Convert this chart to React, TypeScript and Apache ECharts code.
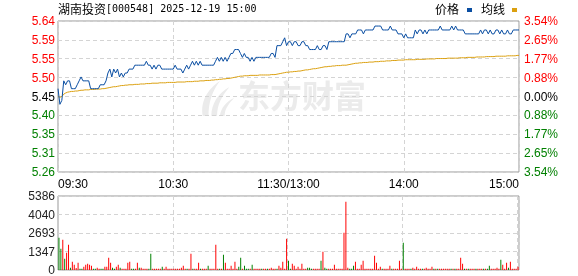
import React, { useEffect, useRef } from 'react';
import * as echarts from 'echarts';

const prevClose = 5.45;
const titleName = '湖南投资';
const titleCode = '[000548] 2025-12-19 15:00';
const legendNames = ['价格', '均线'];
const watermarkText = '东方财富';
const xTickLabels = ['09:30', '10:30', '11:30/13:00', '14:00', '15:00'];
const priceTicks = ['5.26', '5.31', '5.35', '5.40', '5.45', '5.50', '5.55', '5.59', '5.64'];
const pctTicks = ['3.54%', '2.65%', '1.77%', '0.88%', '0.00%', '0.88%', '1.77%', '2.65%', '3.54%'];
const pctRange = 3.54;
const volTicks = ['0', '1347', '2693', '4040', '5386'];
const volMax = 5386;

const prices = [
  5.47, 5.43, 5.44, 5.49, 5.48, 5.49, 5.49, 5.47, 5.47, 5.47,
  5.48, 5.49, 5.50, 5.49, 5.49, 5.49, 5.49, 5.47, 5.47, 5.47,
  5.47, 5.47, 5.48, 5.48, 5.48, 5.49, 5.51, 5.52, 5.50, 5.52,
  5.51, 5.52, 5.50, 5.51, 5.50, 5.51, 5.51, 5.52, 5.52, 5.52,
  5.53, 5.53, 5.53, 5.53, 5.53, 5.53, 5.54, 5.53, 5.53, 5.52,
  5.53, 5.52, 5.53, 5.53, 5.52, 5.52, 5.52, 5.52, 5.52, 5.52,
  5.52, 5.53, 5.52, 5.52, 5.52, 5.51, 5.52, 5.53, 5.52, 5.53,
  5.54, 5.53, 5.54, 5.53, 5.54, 5.53, 5.53, 5.53, 5.53, 5.53,
  5.53, 5.53, 5.54, 5.55, 5.54, 5.55, 5.54, 5.55, 5.54, 5.55,
  5.56, 5.56, 5.57, 5.57, 5.57, 5.56, 5.55, 5.56, 5.55, 5.55,
  5.54, 5.55, 5.54, 5.55, 5.55, 5.55, 5.55, 5.55, 5.55, 5.55,
  5.55, 5.56, 5.56, 5.55, 5.58, 5.58, 5.58, 5.59, 5.60, 5.58,
  5.59, 5.59, 5.58, 5.59, 5.59, 5.58, 5.58, 5.59, 5.59, 5.58,
  5.58, 5.57, 5.57, 5.57, 5.57, 5.58, 5.57, 5.57, 5.58, 5.58,
  5.57, 5.59, 5.59, 5.59, 5.59, 5.59, 5.59, 5.59, 5.59, 5.59,
  5.61, 5.61, 5.60, 5.61, 5.61, 5.61, 5.62, 5.62, 5.62, 5.61,
  5.62, 5.62, 5.62, 5.62, 5.62, 5.63, 5.63, 5.63, 5.63, 5.62,
  5.62, 5.62, 5.62, 5.63, 5.62, 5.62, 5.62, 5.61, 5.61, 5.61,
  5.60, 5.61, 5.60, 5.60, 5.60, 5.60, 5.62, 5.61, 5.62, 5.62,
  5.61, 5.62, 5.61, 5.62, 5.62, 5.62, 5.62, 5.62, 5.62, 5.63,
  5.62, 5.62, 5.62, 5.62, 5.62, 5.63, 5.62, 5.63, 5.62, 5.62,
  5.62, 5.62, 5.61, 5.61, 5.61, 5.61, 5.61, 5.61, 5.61, 5.61,
  5.62, 5.61, 5.62, 5.62, 5.61, 5.62, 5.61, 5.61, 5.62, 5.62,
  5.61, 5.62, 5.61, 5.61, 5.62, 5.61, 5.61, 5.62, 5.62, 5.62,
  5.62,
];

const avgPrices = [
  5.450, 5.448, 5.450, 5.456, 5.459, 5.461, 5.462, 5.463, 5.463, 5.464,
  5.464, 5.465, 5.466, 5.466, 5.467, 5.467, 5.467, 5.468, 5.468, 5.468,
  5.469, 5.469, 5.469, 5.470, 5.470, 5.471, 5.472, 5.473, 5.474, 5.475,
  5.475, 5.476, 5.477, 5.478, 5.478, 5.479, 5.479, 5.480, 5.480, 5.480,
  5.481, 5.481, 5.481, 5.482, 5.482, 5.482, 5.483, 5.483, 5.483, 5.484,
  5.484, 5.484, 5.484, 5.485, 5.485, 5.485, 5.485, 5.486, 5.486, 5.486,
  5.486, 5.486, 5.487, 5.487, 5.487, 5.487, 5.487, 5.488, 5.488, 5.488,
  5.488, 5.489, 5.489, 5.489, 5.490, 5.490, 5.490, 5.491, 5.491, 5.491,
  5.492, 5.492, 5.493, 5.493, 5.494, 5.494, 5.495, 5.495, 5.496, 5.496,
  5.497, 5.498, 5.499, 5.500, 5.501, 5.502, 5.502, 5.503, 5.503, 5.503,
  5.504, 5.504, 5.504, 5.504, 5.504, 5.505, 5.505, 5.505, 5.505, 5.505,
  5.505, 5.506, 5.506, 5.506, 5.507, 5.508, 5.509, 5.510, 5.511, 5.512,
  5.512, 5.513, 5.513, 5.514, 5.514, 5.515, 5.515, 5.516, 5.517, 5.518,
  5.518, 5.519, 5.520, 5.521, 5.521, 5.522, 5.523, 5.524, 5.525, 5.526,
  5.526, 5.527, 5.527, 5.528, 5.528, 5.529, 5.529, 5.529, 5.530, 5.530,
  5.530, 5.531, 5.532, 5.533, 5.534, 5.535, 5.535, 5.536, 5.536, 5.537,
  5.537, 5.537, 5.538, 5.538, 5.538, 5.539, 5.539, 5.539, 5.540, 5.540,
  5.540, 5.541, 5.541, 5.541, 5.542, 5.542, 5.542, 5.543, 5.543, 5.543,
  5.543, 5.544, 5.544, 5.544, 5.544, 5.544, 5.544, 5.545, 5.545, 5.545,
  5.545, 5.545, 5.546, 5.546, 5.546, 5.546, 5.546, 5.547, 5.547, 5.547,
  5.547, 5.547, 5.547, 5.548, 5.548, 5.548, 5.548, 5.548, 5.548, 5.549,
  5.549, 5.549, 5.549, 5.550, 5.550, 5.550, 5.550, 5.550, 5.551, 5.551,
  5.551, 5.551, 5.551, 5.552, 5.552, 5.552, 5.552, 5.552, 5.553, 5.553,
  5.553, 5.553, 5.553, 5.553, 5.554, 5.554, 5.554, 5.554, 5.554, 5.555,
  5.555,
];

const volumes = [
  2353, 1553, 2208, 825, 1262, 1844, 170, 607, 388, 150,
  534, 97, 97, 243, 388, 461, 388, 315, 97, 97,
  170, 97, 97, 97, 243, 243, 898, 534, 170, 97,
  243, 388, 170, 97, 97, 97, 534, 607, 97, 97,
  97, 534, 170, 170, 97, 97, 97, 97, 1189, 97,
  97, 97, 97, 97, 243, 97, 243, 97, 97, 97,
  97, 97, 97, 97, 170, 315, 97, 97, 97, 1189,
  97, 97, 97, 534, 97, 97, 97, 97, 315, 97,
  97, 97, 1844, 97, 97, 97, 1116, 534, 97, 97,
  315, 97, 607, 97, 243, 898, 97, 315, 97, 97,
  97, 388, 97, 97, 97, 97, 97, 97, 97, 97,
  97, 170, 97, 97, 97, 315, 170, 607, 97, 2280,
  680, 97, 461, 315, 97, 243, 97, 461, 97, 97,
  170, 170, 97, 97, 97, 97, 97, 680, 1334, 170,
  97, 97, 97, 97, 388, 97, 97, 97, 97, 2717,
  4973, 170, 97, 97, 315, 607, 97, 97, 388, 680,
  97, 97, 97, 97, 97, 1043, 534, 97, 243, 97,
  97, 97, 97, 315, 97, 97, 97, 97, 680, 97,
  1989, 97, 97, 97, 97, 170, 97, 243, 97, 97,
  97, 97, 170, 97, 97, 243, 97, 97, 97, 97,
  97, 97, 97, 97, 97, 97, 97, 97, 97, 97,
  898, 461, 97, 97, 97, 97, 97, 97, 97, 97,
  97, 97, 97, 97, 97, 315, 97, 97, 97, 170,
  97, 752, 388, 97, 534, 170, 607, 97, 97, 97,
  243,
];

const downBars = [
  0, 1, 3, 6, 11, 12, 18, 19, 22, 23, 28, 29, 32, 38, 39, 42, 47, 48, 54, 67,
  70, 74, 78, 84, 86, 94, 95, 97, 98, 99, 101, 106, 109, 114, 120, 121, 130, 131,
  132, 137, 139, 140, 152, 153, 154, 169, 174, 180, 184, 190, 196, 198, 205, 207,
  212, 214, 218, 222, 224, 225, 231, 235,
];

const FONT = '"Liberation Sans", Arial, sans-serif';
const CJK = '"Noto Sans CJK SC", sans-serif';
const RED = '#ff0000';
const GREEN = '#008000';
const PRICE_COLOR = '#0a4ea2';
const AVG_COLOR = '#dba010';
const WATERMARK = '#ebebeb';

const LEAF_PATH =
  'M4 36 C1 22 9 9 22 1 C14 11 10 22 10 36 Z ' +
  'M13 36 C13 24 20 13 32 7 C24 16 19 25 19 36 Z ' +
  'M22 36 C23 28 29 21 37 18 C31 24 27 29 27 36 Z';

let leafRegistered = false;
function ensureLeaf() {
  if (leafRegistered) return;
  echarts.graphic.registerShape('wmLeaf', (echarts.graphic as any).extendPath(LEAF_PATH, {}));
  leafRegistered = true;
}

function tickClass(idx: number) {
  if (idx > 4) return 'r';
  if (idx < 4) return 'g';
  return 'k';
}

const richColors = {
  r: { color: RED, fontSize: 12, fontFamily: FONT },
  g: { color: GREEN, fontSize: 12, fontFamily: FONT },
  k: { color: '#000', fontSize: 12, fontFamily: FONT },
};

export default function App() {
  const ref = useRef<HTMLDivElement>(null);
  useEffect(() => {
    ensureLeaf();
    const chart = echarts.init(ref.current!, null, { renderer: 'svg' });
    const step = pctRange / 4;
    const pctIdx = (v: number) => Math.round((v + pctRange) / step);
    const downSet = new Set(downBars);
    const dashed = { color: '#d4d4d4', type: [4, 3], width: 1 };
    const option: any = {
      animation: false,
      grid: [
        { left: 58, top: 21, width: 461, height: 151, show: true, borderColor: '#999', borderWidth: 1 },
        { left: 58, top: 196, width: 461, height: 74, show: true, borderColor: '#999', borderWidth: 1 },
      ],
      xAxis: [
        {
          type: 'value', gridIndex: 0, min: 0, max: 240, interval: 60,
          axisLine: { show: false }, axisTick: { show: false },
          splitLine: { show: true, lineStyle: dashed },
          axisLabel: {
            formatter: (v: number) => xTickLabels[Math.round(v / 60)] ?? '',
            color: '#000', fontSize: 12, fontFamily: FONT, margin: 6,
            alignMinLabel: 'left', alignMaxLabel: 'right',
          },
        },
        {
          type: 'category', gridIndex: 1, boundaryGap: true,
          data: volumes.map((_, i) => String(i)),
          axisLine: { show: false }, axisTick: { show: false }, axisLabel: { show: false },
          splitLine: {
            show: true,
            interval: (i: number) => i > 0 && i % 60 === 0,
            lineStyle: dashed,
          },
        },
      ],
      yAxis: [
        {
          type: 'value', gridIndex: 0, position: 'left', min: -pctRange, max: pctRange, interval: step,
          axisLine: { show: false }, axisTick: { show: false },
          splitLine: { show: true, lineStyle: dashed },
          axisLabel: {
            formatter: (v: number) => {
              const i = pctIdx(v);
              return `{${tickClass(i)}|${priceTicks[i] ?? ''}}`;
            },
            rich: richColors, margin: 3,
          },
        },
        {
          type: 'value', gridIndex: 0, position: 'right', min: -pctRange, max: pctRange, interval: step,
          axisLine: { show: false }, axisTick: { show: false }, splitLine: { show: false },
          axisLabel: {
            formatter: (v: number) => {
              const i = pctIdx(v);
              return `{${tickClass(i)}|${pctTicks[i] ?? ''}}`;
            },
            rich: richColors, margin: 5,
          },
        },
        {
          type: 'value', gridIndex: 1, min: 0, max: volMax, interval: volMax / 4,
          axisLine: { show: false }, axisTick: { show: false },
          splitLine: { show: true, lineStyle: dashed },
          axisLabel: {
            formatter: (v: number) => volTicks[Math.round(v / (volMax / 4))] ?? '',
            color: '#222', fontSize: 12, fontFamily: FONT, margin: 3,
          },
        },
      ],
      graphic: [
        {
          type: 'wmLeaf', x: 199, y: 80, scaleX: 0.95, scaleY: 1, z: 0, silent: true,
          style: { fill: WATERMARK },
        },
        {
          type: 'text', left: 238, top: 78, z: 0, silent: true,
          style: { text: watermarkText, fontSize: 32, fontWeight: 'bold', fontFamily: CJK, fill: WATERMARK },
        },
        {
          type: 'text', left: 58, top: 2,
          style: {
            text: `{a|${titleName}}{b|${titleCode}}`,
            rich: {
              a: { fontSize: 12, fontFamily: CJK, fill: '#000', color: '#000' },
              b: { fontSize: 10, fontFamily: '"DejaVu Sans Mono", monospace', fill: '#000', color: '#000' },
            },
          },
        },
        {
          type: 'text', left: 435, top: 2,
          style: { text: legendNames[0], fontSize: 12, fontFamily: CJK, fill: '#000' },
        },
        { type: 'rect', left: 467, top: 8, shape: { width: 5, height: 4 }, style: { fill: PRICE_COLOR } },
        {
          type: 'text', left: 481, top: 2,
          style: { text: legendNames[1], fontSize: 12, fontFamily: CJK, fill: '#000' },
        },
        { type: 'rect', left: 512, top: 8, shape: { width: 5, height: 4 }, style: { fill: AVG_COLOR } },
      ],
      series: [
        {
          type: 'line', xAxisIndex: 0, yAxisIndex: 0, symbol: 'none', z: 4,
          data: prices.map((p, i) => [i, (p / prevClose - 1) * 100]),
          lineStyle: { color: PRICE_COLOR, width: 1 },
        },
        {
          type: 'line', xAxisIndex: 0, yAxisIndex: 0, symbol: 'none', z: 3,
          data: avgPrices.map((p, i) => [i, (p / prevClose - 1) * 100]),
          lineStyle: { color: AVG_COLOR, width: 1 },
        },
        {
          type: 'bar', xAxisIndex: 1, yAxisIndex: 2, barWidth: 1,
          data: volumes.map((v, i) => ({ value: v, itemStyle: { color: downSet.has(i) ? GREEN : RED } })),
        },
      ],
    };
    chart.setOption(option);
    return () => chart.dispose();
  }, []);
  return <div ref={ref} style={{ position: 'fixed', left: 0, top: 0, width: 578, height: 276 }} />;
}
